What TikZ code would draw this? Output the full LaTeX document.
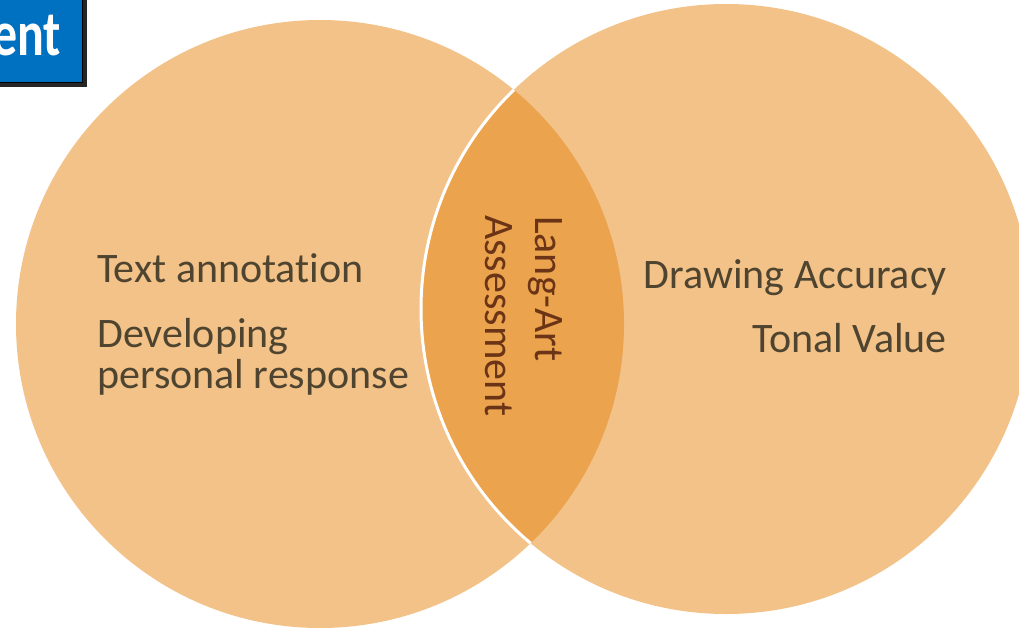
\documentclass[tikz,border=0pt]{standalone}
\usepackage{fontspec}
\setmainfont{Carlito}[Ligatures={NoCommon}]
\definecolor{lightor}{HTML}{F2C288}
\definecolor{darkor}{HTML}{EBA44D}
\definecolor{txtgray}{HTML}{4E4430}
\definecolor{lenstxt}{HTML}{6B3416}
\definecolor{boxblue}{HTML}{0070C0}
\begin{document}
\begin{tikzpicture}[x=1pt,y=-1pt,
  bodytext/.style={inner sep=0pt, text=txtgray, font=\fontsize{42}{50}\selectfont},
  lenstext/.style={inner sep=0pt, text=lenstxt, font=\fontsize{42}{50}\selectfont, rotate=-90, anchor=base west}]
\useasboundingbox (0,0) rectangle (1019,629);
% circles
\fill[lightor] (320,324) circle[radius=304];
\fill[lightor] (726,309) circle[radius=305];
\begin{scope}
  \clip (320,324) circle[radius=304];
  \fill[darkor, draw=white, line width=3pt] (726,309) circle[radius=305];
\end{scope}
% title box
\fill[black!85] (-2,-2) rectangle (86.5,86.5);
\fill[boxblue, draw=black, line width=1.2pt] (-5,-5) rectangle (82.5,82.5);
\node[inner sep=0pt, anchor=base east, xscale=0.78, text=white, font=\bfseries\fontsize{64}{70}\selectfont] (ttl) at (61,55) {ent};
% texts
\node[bodytext, anchor=base west] (t1) at (97,282) {Text annotation};
\node[bodytext, anchor=base west] (t2) at (97,347) {Developing};
\node[bodytext, anchor=base west] (t3) at (97,388) {personal response};
\node[bodytext, anchor=base east] (r1) at (947,288) {Drawing Accuracy};
\node[bodytext, anchor=base east] (r2) at (947,352) {Tonal Value};
\node[lenstext] (l1) at (535,216) {Lang-Art};
\node[lenstext] (l2) at (485,215) {Assessment};
\end{tikzpicture}
\end{document}
